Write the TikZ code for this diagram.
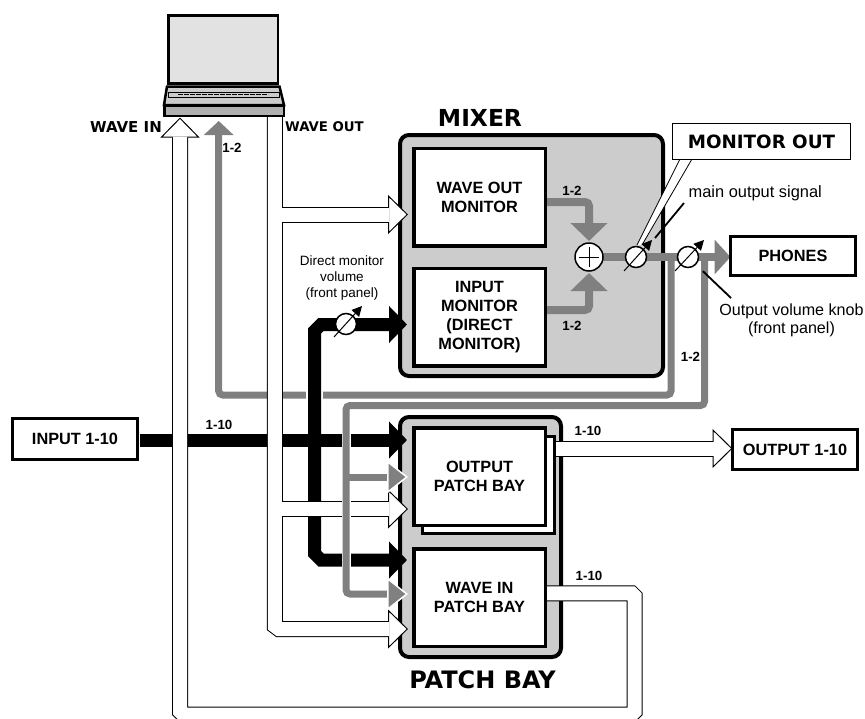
\documentclass[tikz,border=0pt]{standalone}
\usepackage{fontspec}
\usepackage{xcolor}
\usetikzlibrary{arrows.meta,positioning,calc}
\setmainfont{Liberation Sans}
\newfontfamily\heavyfont{DejaVu Sans}
\definecolor{PanelGray}{RGB}{204,204,204}
\definecolor{SignalGray}{RGB}{128,128,128}
\definecolor{ScreenGray}{RGB}{226,226,226}
\definecolor{BodyGray}{RGB}{176,176,176}
\pgfdeclarelayer{panel}
\pgfdeclarelayer{wire}
\pgfsetlayers{panel,wire,main}
\newcommand{\boldtext}{\fontsize{16.3}{19}\selectfont\bfseries}
\tikzset{
  panelbox/.style={draw, line width=4pt, fill=PanelGray, rounded corners=9pt, inner sep=0pt, outer sep=0pt},
  unitbox/.style={draw, line width=3.5pt, fill=white, inner sep=0pt, outer sep=0pt, minimum width=131.5pt, minimum height=97.5pt, align=center, font=\boldtext},
  portbox/.style={draw, line width=3pt, fill=white, inner sep=0pt, outer sep=0pt, minimum width=125pt, minimum height=40pt, font=\boldtext},
  knob/.style={circle, draw, line width=1.5pt, fill=white, inner sep=0pt, outer sep=0pt, minimum size=21pt},
  needle/.style={line width=1pt, -{Triangle[length=10pt,width=10pt]}},
  busline/.style={line width=13pt, draw=black},
  bustip/.tip={Triangle[length=18pt,width=36pt]},
  sigline/.style={line width=7pt, draw=SignalGray, rounded corners=4pt},
  rimtip/.tip={Triangle[length=21pt,width=33pt,color=white,fill=SignalGray,line width=1.5pt]},
  pipeedge/.style={line width=16pt, draw=black},
  pipefill/.style={line width=14pt, draw=white, shorten >=19pt},
  pipetip/.style={-{Triangle[length=20pt,width=39pt,fill=white,line width=1pt]}},
  smalltag/.style={font=\fontsize{13.3}{15}\selectfont\bfseries, inner sep=0pt},
  heavytag/.style={font=\heavyfont\bfseries\fontsize{15}{17}\selectfont, inner sep=0pt},
  notetext/.style={align=center, inner sep=0pt}
}
\begin{document}
\begin{tikzpicture}[x=1pt, y=-1pt]
\useasboundingbox (0,0) rectangle (865,718);

% panels
\begin{pgfonlayer}{panel}
\node[panelbox, minimum width=263pt, minimum height=241pt] (mixer) at (531.5,255.5) {};
\node[panelbox, minimum width=161pt, minimum height=240pt] (patchbay) at (480.5,537) {};
\end{pgfonlayer}

% laptop
\node[draw, line width=2.5pt, fill=ScreenGray, inner sep=0pt, outer sep=0pt, minimum width=109.5pt, minimum height=68pt] (screen) at (223,49.5) {};
\draw[line width=2.5pt, fill=PanelGray] (167,86.5) -- (279.5,86.5) -- (284,105) -- (164,105) -- cycle;
\draw[line width=.8pt, fill=PanelGray] (168,92) rectangle (279,97);
\draw[line width=.8pt, dash pattern=on 5pt off 1pt] (178,94.5) -- (268,94.5);
\node[draw, line width=2.5pt, fill=BodyGray, inner sep=0pt, outer sep=0pt, minimum width=119.5pt, minimum height=10.5pt] (laptop) at (224,110.5) {};

% units
\node[unitbox] (wavemon) at (479.5,197) {WAVE OUT\\MONITOR};
\node[unitbox, below=22.5pt of wavemon] (inputmon) {INPUT\\MONITOR\\(DIRECT\\MONITOR)};
\node[unitbox, minimum width=132pt, line width=3pt] (outshadow) at (488.5,485) {};
\node[unitbox] (outbay) at (479.5,476.5) {OUTPUT\\PATCH BAY};
\node[unitbox, below=23.5pt of outbay] (inbay) {WAVE IN\\PATCH BAY};

% ports
\node[portbox, minimum height=41pt] (input) at (75,439) {INPUT 1-10};
\node[portbox] (output) at (795,449.5) {OUTPUT 1-10};
\node[portbox, minimum height=39pt] (phones) at (793,256) {PHONES};
\node[draw, line width=1pt, fill=white, inner sep=0pt, outer sep=0pt, minimum width=178pt, minimum height=36pt, font=\heavyfont\bfseries\fontsize{18.3}{20}\selectfont] (monout) at (761.5,141.5) {MONITOR OUT};

% mixing and volume
\node[circle, draw, line width=1.5pt, fill=white, inner sep=0pt, outer sep=0pt, minimum size=28pt] (sum) at (589,257) {};
\draw[line width=1pt] ($(sum)+(-10,0)$) -- ($(sum)+(10,0)$);
\draw[line width=1pt] ($(sum)+(0,-10)$) -- ($(sum)+(0,10)$);
\node[knob] (mainknob) at (636,257) {};
\node[knob] (directknob) at (346,324) {};
\draw[needle] ($(mainknob)+(-12,14)$) -- ($(mainknob)+(16,-17)$);
\draw[needle] ($(directknob)+(-12,13)$) -- ($(directknob)+(16,-18)$);

% free ends
\coordinate (wavein) at (180,117.5);
\coordinate (waveout) at (274.8,116);
\coordinate (backtip) at (218.7,121);
\coordinate (tapleft) at (671,257);
\coordinate (tapright) at (704.5,257);
\coordinate (wavemonfeed) at (546,202);
\coordinate (inputmonfeed) at (546,310);
\coordinate (directtip) at (407,324.5);
\coordinate (outbaytip) at (407,440);
\coordinate (inbaytip) at (407,560);
\coordinate (sigbaytip) at (408,477);
\coordinate (siginbaytip) at (408,594);
\coordinate (pipemon) at (408,214.5);
\coordinate (pipeout) at (408,509);
\coordinate (pipein) at (408,629);
\coordinate (inbayout) at (546,593.3);
\coordinate (shadowout) at (554,448.5);
\coordinate (wedgeA) at (680,159);
\coordinate (wedgeB) at (692,159);
\coordinate (wedgeC) at (642,245);
\coordinate (wedgeD) at (637,245);

\begin{pgfonlayer}{wire}
% callout wedge
\fill[white] (wedgeA) -- (wedgeB) -- (wedgeC) -- (wedgeD) -- cycle;
\draw[line width=.8pt] (wedgeA) -- (wedgeD);
\draw[line width=.8pt] (wedgeB) -- (wedgeC);

% gray return to the laptop
\draw[sigline, -{Triangle[length=14pt,width=29pt]}] (tapleft) -- (671,395) -- (218.7,395) -- (backtip);

% black bus
\draw[white, line width=17pt] (314.5,332) -- (314.5,553);
\draw[busline, bustip-bustip] (directtip) -- (321,324.5) -- (314.5,331) -- (314.5,553.5) -- (321,560) -- (inbaytip);
\draw[busline, shorten <=2pt, -bustip] (input.east |- outbaytip) -- (outbaytip);

% white pipes
\foreach \pass/\tip in {pipeedge/pipetip,pipefill/pipefill}{
  \draw[\pass, \tip] (inbayout) -- (631.7,593.3) -- (634.7,596.3) -- (634.7,711.5) -- (631.7,714.5) -- (183,714.5) -- (180,711.5) -- (wavein);
  \draw[\pass, \tip] (waveout) -- (274.8,626) -- (278.8,629) -- (pipein);
  \draw[\pass, \tip] (274.8,214.5) -- (pipemon);
  \draw[\pass, \tip] (274.8,509) -- (pipeout);
  \draw[\pass, \tip] (shadowout) -- (output.west |- shadowout);
}

% gray feed to the patch bay
\draw[white, line width=9pt] (346,412) -- (346,590);
\draw[white, line width=9pt] (352,405.5) -- (700,405.5);
\draw[sigline, -rimtip] (tapright) -- (704.5,405.5) -- (346,405.5) -- (346,594) -- (siginbaytip);
\draw[sigline, -rimtip] (346,477) -- (sigbaytip);

% mixer signal
\draw[sigline, line width=8pt, shorten >=2pt, -{Triangle[length=18pt,width=36pt]}] (wavemonfeed) -| (sum.north);
\draw[sigline, line width=8pt, shorten >=2pt, -{Triangle[length=18pt,width=36pt]}] (inputmonfeed) -| (sum.south);
\draw[sigline, line width=8pt, -{Triangle[length=16pt,width=34pt]}] (sum) -- (phones.west |- sum);
\end{pgfonlayer}

% leaders
\node[notetext, anchor=west, font=\fontsize{16.4}{19}\selectfont] (mainnote) at (688.5,193) {main output signal};
\node[notetext, anchor=north, font=\fontsize{16.1}{18}\selectfont] (knobnote) at (791.5,304) {Output volume knob\\(front panel)};
\node[notetext, font=\fontsize{13.5}{16}\selectfont] (directnote) at (342,278) {Direct monitor\\volume\\(front panel)};
\coordinate (mainlead) at (684,203);
\coordinate (knoblead) at (731,298);
\draw[line width=1.8pt] (mainlead) -- ($(mainknob)+(19,-19)$);
\node[knob] (outknob) at (688,257) {};
\draw[line width=1.8pt, shorten >=10pt] (knoblead) -- (outknob);
\draw[needle] ($(outknob)+(-13,14)$) -- ($(outknob)+(16,-17)$);

% labels
\node[heavytag] (waveinlabel) at (126,127) {WAVE IN};
\node[heavytag, font=\heavyfont\bfseries\fontsize{13.3}{17}\selectfont] (waveoutlabel) at (324.5,127) {WAVE OUT};
\node[heavytag, font=\heavyfont\bfseries\fontsize{23.4}{26}\selectfont] (mixerlabel) at (480,118) {MIXER};
\node[heavytag, font=\heavyfont\bfseries\fontsize{24}{27}\selectfont] (baylabel) at (482.5,680) {PATCH BAY};
\node[smalltag] (backtag) at (232,148) {1-2};
\node[smalltag] (wavemontag) at (572,191) {1-2};
\node[smalltag] (inputmontag) at (572,326) {1-2};
\node[smalltag] (taptag) at (690.5,357) {1-2};
\node[smalltag] (inputtag) at (219,425) {1-10};
\node[smalltag] (outputtag) at (588,431) {1-10};
\node[smalltag] (inbaytag) at (589,576) {1-10};
\end{tikzpicture}
\end{document}
